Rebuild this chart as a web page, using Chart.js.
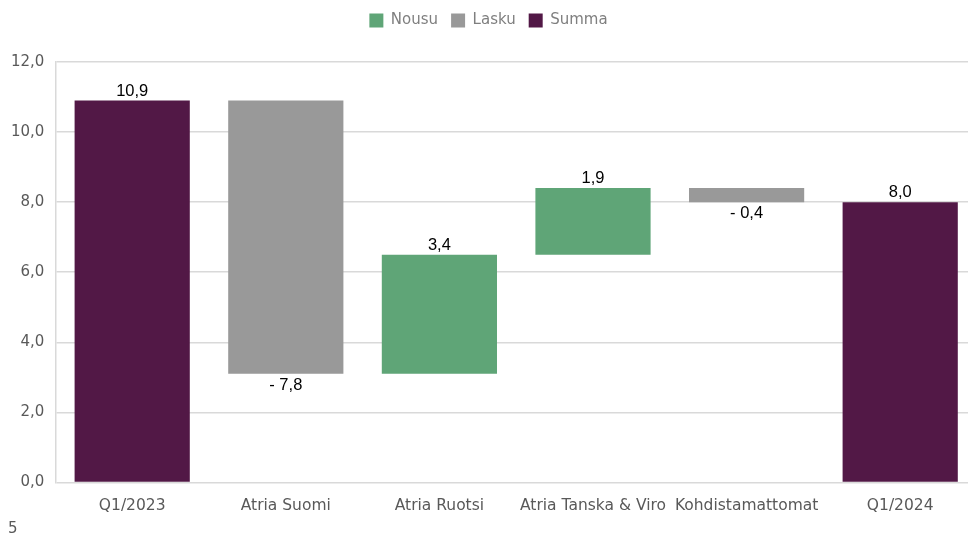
<!DOCTYPE html>
<html lang="fi">
<head>
<meta charset="utf-8">
<title>Atria – vertailukelpoinen liikevoitto</title>
<script src="https://cdn.jsdelivr.net/npm/chart.js@4.4.1/dist/chart.umd.min.js"></script>
<style>
  html, body { margin: 0; padding: 0; background: #fff; overflow: hidden; }
  #wrap { position: relative; width: 980px; height: 537px; }
  #page { position: absolute; left: 8px; top: 519px; font: 15px 'DejaVu Sans', sans-serif; color: #595959; }
</style>
</head>
<body>
<div id="wrap">
  <canvas id="chartBridge" width="980" height="537"></canvas>
  <div id="page">5</div>
</div>
<script>
/* Waterfall: Q1/2023 -> Q1/2024 */
const categories = ['Q1/2023', 'Atria Suomi', 'Atria Ruotsi', 'Atria Tanska & Viro', 'Kohdistamattomat', 'Q1/2024'];
const changes    = [10.9, -7.8, 3.4, 1.9, -0.4, 8.0];
const kinds      = ['Summa', 'Lasku', 'Nousu', 'Nousu', 'Lasku', 'Summa'];
const yTicks     = [0, 2, 4, 6, 8, 10, 12];

const GREEN  = '#5fa577';
const GREY   = '#999999';
const PURPLE = '#521846';
const GRID   = '#d9d9d9';

const fmt = (v) => v.toFixed(1).replace('.', ',');

// floating ranges from running total
const ranges = [];
let run = 0;
changes.forEach((c, i) => {
  if (kinds[i] === 'Summa') { ranges.push([0, c]); run = c; }
  else { ranges.push([run, run + c]); run += c; }
});

function seriesFor(kind) {
  return ranges.map((r, i) => kinds[i] === kind ? r : null);
}

const labelPlugin = {
  id: 'barLabels',
  afterDatasetsDraw(chart) {
    const ctx = chart.ctx;
    const y = chart.scales.y;
    const x = chart.scales.x;
    ctx.save();
    ctx.font = "16.5px 'Liberation Sans', Arial, sans-serif";
    ctx.fillStyle = '#000';
    ctx.textAlign = 'center';
    changes.forEach((c, i) => {
      const cx = x.getPixelForValue(i);
      const top = Math.max(ranges[i][0], ranges[i][1]);
      const bot = Math.min(ranges[i][0], ranges[i][1]);
      if (c >= 0) {
        ctx.textBaseline = 'bottom';
        ctx.fillText(fmt(c), cx, y.getPixelForValue(top) - 1);
      } else {
        ctx.textBaseline = 'top';
        ctx.fillText('- ' + fmt(-c), cx, y.getPixelForValue(bot) + 3);
      }
    });
    ctx.restore();
  },
};

// extra room under the legend
const legendGap = {
  id: 'legendGap',
  beforeInit(chart) {
    const fit = chart.legend.fit;
    chart.legend.fit = function () {
      fit.call(this);
      this.height += 24;
    };
  },
};

const common = { barPercentage: 0.75, categoryPercentage: 1, grouped: false, borderWidth: 0 };

new Chart(document.getElementById('chartBridge'), {
  type: 'bar',
  data: {
    labels: categories,
    datasets: [
      { label: 'Nousu', data: seriesFor('Nousu'), backgroundColor: GREEN, ...common },
      { label: 'Lasku', data: seriesFor('Lasku'), backgroundColor: GREY, ...common },
      { label: 'Summa', data: seriesFor('Summa'), backgroundColor: PURPLE, ...common },
    ],
  },
  options: {
    responsive: false,
    animation: false,
    layout: { padding: { top: 0, left: 0, right: 3, bottom: 16 } },
    plugins: {
      legend: {
        position: 'top',
        labels: {
          color: '#7f7f7f',
          font: { family: "'DejaVu Sans', sans-serif", size: 15 },
          boxWidth: 14,
          boxHeight: 14,
          padding: 13,
        },
      },
      tooltip: { enabled: false },
    },
    scales: {
      x: {
        grid: { display: false },
        border: { display: false },
        ticks: { color: '#595959', font: { family: "'DejaVu Sans', sans-serif", size: 15.5 }, maxRotation: 0, padding: 6 },
      },
      y: {
        min: 0, max: 12,
        afterBuildTicks: (s) => { s.ticks = yTicks.map(v => ({ value: v })); },
        grid: { color: GRID, lineWidth: 1.5, drawTicks: false },
        border: { display: true, color: GRID, width: 1.5 },
        ticks: { color: '#595959', font: { family: "'DejaVu Sans', sans-serif", size: 15 }, padding: 11, callback: (v) => fmt(v) },
      },
    },
  },
  plugins: [labelPlugin, legendGap],
});
</script>
</body>
</html>
